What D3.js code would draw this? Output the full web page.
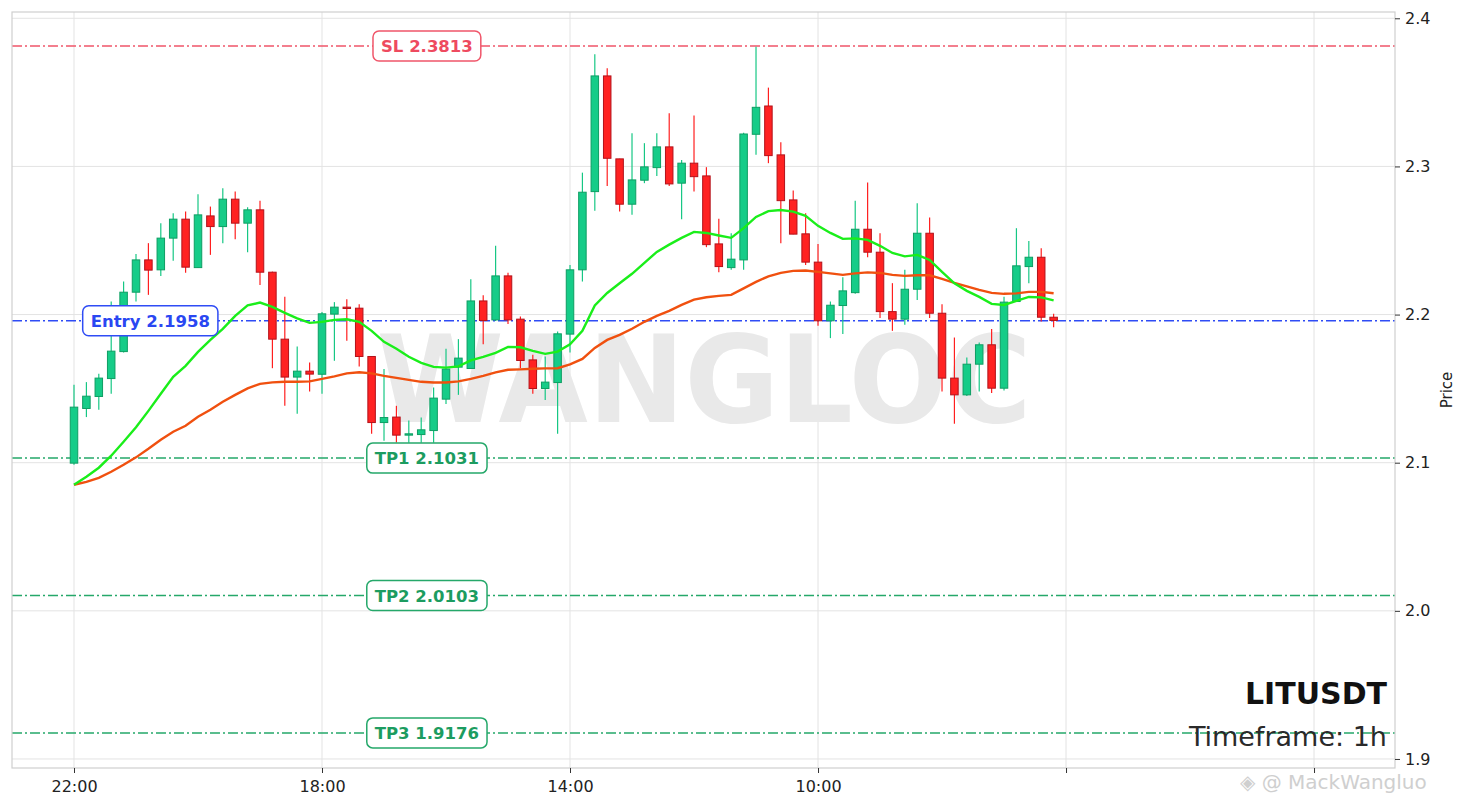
<!DOCTYPE html>
<html><head><meta charset="utf-8">
<script src="https://cdn.jsdelivr.net/npm/d3@7"></script>
<style>
html,body{margin:0;padding:0;background:#fff;}
svg{display:block;font-family:"DejaVu Sans",sans-serif;}
</style></head>
<body>
<svg id="chart" width="1468" height="808"></svg>
<script>
// ---------- DATA ----------
const symbol = "LITUSDT";
const timeframe = "Timeframe: 1h";
const watermark = "WANGLOC";
const xTickIdx = [0, 20, 40, 60, 80, 100];
const xTickLabels = ["22:00", "18:00", "14:00", "10:00", "", ""];
const yTicks = [1.9, 2.0, 2.1, 2.2, 2.3, 2.4];

const opens = [2.0997,2.1366,2.1447,2.1568,2.1750,2.2151,2.2369,2.2302,2.2516,2.2644,
  2.2317,2.2666,2.2594,2.2779,2.2617,2.2707,2.2286,2.1834,2.1578,2.1618,
  2.1597,2.2003,2.2050,2.2043,2.1717,2.1271,2.1308,2.1186,2.1190,2.1217,
  2.1429,2.1645,2.1636,2.2092,2.1964,2.2261,2.1969,2.1694,2.1501,2.1541,
  2.1868,2.2302,2.2830,2.3611,2.3051,2.2745,2.2907,2.2992,2.3132,2.2887,
  2.3022,2.2936,2.2477,2.2317,2.2369,2.3217,2.3408,2.3078,2.2774,2.2545,
  2.2354,2.1958,2.2061,2.2148,2.2576,2.2421,2.2020,2.1969,2.2171,2.2549,
  2.2009,2.1571,2.1458,2.1665,2.1796,2.1503,2.2088,2.2324,2.2387,2.1982];
const highs = [2.1526,2.1544,2.1600,2.2088,2.2223,2.2408,2.2482,2.2617,2.2684,2.2695,
  2.2812,2.2729,2.2853,2.2830,2.2725,2.2769,2.2290,2.2121,2.1784,2.1676,
  2.2018,2.2084,2.2104,2.2070,2.1717,2.1632,2.1384,2.1285,2.1305,2.1507,
  2.1769,2.1834,2.2239,2.2131,2.2464,2.2283,2.1987,2.1728,2.1717,2.1885,
  2.2335,2.2958,2.3757,2.3663,2.3051,2.3224,2.3157,2.3224,2.3359,2.3044,
  2.3343,2.2995,2.2646,2.2549,2.3228,2.3808,2.3532,2.3163,2.2837,2.2684,
  2.2477,2.2088,2.2252,2.2769,2.2891,2.2549,2.2212,2.2302,2.2752,2.2655,
  2.2070,2.1845,2.1710,2.1811,2.1902,2.2121,2.2583,2.2497,2.2448,2.2005];
const lows = [2.0986,2.1308,2.1357,2.1465,2.1744,2.2088,2.2133,2.2261,2.2364,2.2283,
  2.2315,2.2403,2.2482,2.2509,2.2421,2.2200,2.1638,2.1384,2.1330,2.1480,
  2.1465,2.1688,2.1823,2.1649,2.1195,2.1148,2.1136,2.1134,2.1134,2.1134,
  2.1397,2.1458,2.1634,2.1800,2.1957,2.1937,2.1638,2.1465,2.1424,2.1195,
  2.1744,2.2223,2.2700,2.2868,2.2695,2.2673,2.2887,2.2936,2.2868,2.2644,
  2.2830,2.2455,2.2286,2.2302,2.2302,2.3078,2.3022,2.2482,2.2543,2.2335,
  2.1924,2.1841,2.1868,2.2140,2.2387,2.1976,2.1890,2.1931,2.2099,2.1976,
  2.1480,2.1263,2.1451,2.1480,2.1470,2.1487,2.2088,2.2212,2.1953,2.1915];
const closes = [2.1375,2.1449,2.1571,2.1753,2.2151,2.2369,2.2300,2.2516,2.2644,2.2320,
  2.2673,2.2594,2.2779,2.2617,2.2707,2.2286,2.1834,2.1578,2.1618,2.1598,
  2.2005,2.2050,2.2041,2.1717,2.1271,2.1305,2.1186,2.1195,2.1222,2.1436,
  2.1632,2.1706,2.2092,2.1960,2.2261,2.1964,2.1690,2.1501,2.1544,2.1870,
  2.2302,2.2826,2.3611,2.3055,2.2745,2.2909,2.2997,2.3132,2.2882,2.3022,
  2.2931,2.2472,2.2324,2.2374,2.3219,2.3399,2.3073,2.2769,2.2543,2.2354,
  2.1958,2.2063,2.2160,2.2576,2.2421,2.2020,2.1969,2.2171,2.2549,2.2009,
  2.1571,2.1458,2.1665,2.1796,2.1503,2.2084,2.2329,2.2387,2.1982,2.1960];
const maFast = [2.0851,2.0905,2.0966,2.1047,2.1141,2.1239,2.1350,2.1465,2.1580,2.1654,
  2.1748,2.1829,2.1904,2.1991,2.2062,2.2081,2.2052,2.2011,2.1974,2.1944,
  2.1951,2.1964,2.1968,2.1951,2.1890,2.1816,2.1769,2.1715,2.1674,2.1647,
  2.1642,2.1650,2.1691,2.1715,2.1742,2.1782,2.1779,2.1755,2.1735,2.1750,
  2.1799,2.1890,2.2062,2.2146,2.2211,2.2275,2.2349,2.2423,2.2472,2.2518,
  2.2558,2.2551,2.2534,2.2518,2.2583,2.2659,2.2698,2.2706,2.2695,2.2666,
  2.2599,2.2551,2.2511,2.2514,2.2504,2.2464,2.2416,2.2393,2.2403,2.2369,
  2.2288,2.2211,2.2160,2.2119,2.2072,2.2065,2.2092,2.2119,2.2116,2.2096];
const maSlow = [2.0851,2.0871,2.0898,2.0939,2.0986,2.1036,2.1094,2.1155,2.1209,2.1249,
  2.1310,2.1357,2.1411,2.1458,2.1502,2.1532,2.1542,2.1546,2.1546,2.1549,
  2.1566,2.1583,2.1603,2.1611,2.1603,2.1586,2.1573,2.1559,2.1546,2.1541,
  2.1541,2.1549,2.1566,2.1586,2.1610,2.1627,2.1630,2.1634,2.1637,2.1638,
  2.1664,2.1701,2.1775,2.1829,2.1863,2.1904,2.1951,2.1991,2.2025,2.2065,
  2.2101,2.2117,2.2126,2.2133,2.2177,2.2221,2.2258,2.2281,2.2295,2.2297,
  2.2288,2.2278,2.2268,2.2278,2.2285,2.2281,2.2268,2.2261,2.2265,2.2265,
  2.2241,2.2214,2.2190,2.2167,2.2146,2.2140,2.2143,2.2153,2.2153,2.2144];

const levelNames = ["SL", "Entry", "TP1", "TP2", "TP3"];
const levelValues = [2.3813, 2.1958, 2.1031, 2.0103, 1.9176];
const levelLabelPos = [0.3, 0.1, 0.3, 0.3, 0.3]; // axes fraction
const levelColors = ["#f0566a", "#2f4cf5", "#25a86a", "#25a86a", "#25a86a"];
const levelTextColors = ["#ee4a5f", "#2a47f2", "#1c9c60", "#1c9c60", "#1c9c60"];

// ---------- LAYOUT ----------
const L = 12, R = 1395, T = 12, B = 768;
const svg = d3.select("#chart");
const x = d3.scaleLinear().domain([-5, 106.53]).range([L, R]);
const y = d3.scaleLinear().domain([1.8939, 2.40425]).range([B, T]);

// grid
const grid = svg.append("g");
grid.selectAll("line.h").data(yTicks).join("line")
  .attr("x1", L).attr("x2", R).attr("y1", d => y(d)).attr("y2", d => y(d))
  .attr("stroke", "#e3e3e3").attr("stroke-width", 1);
grid.selectAll("line.v").data(xTickIdx).join("line")
  .attr("x1", d => x(d)).attr("x2", d => x(d)).attr("y1", T).attr("y2", B)
  .attr("stroke", "#e3e3e3").attr("stroke-width", 1);

// watermark
svg.append("text").attr("x", 704).attr("y", 422).attr("text-anchor", "middle")
  .attr("font-size", 122).attr("font-weight", "bold")
  .attr("textLength", 655).attr("lengthAdjust", "spacingAndGlyphs")
  .attr("fill", "#e9e9e9").text(watermark);

// level lines
const lv = svg.append("g");
levelValues.forEach((v, i) => {
  lv.append("line").attr("x1", L).attr("x2", R).attr("y1", y(v)).attr("y2", y(v))
    .attr("stroke", levelColors[i]).attr("stroke-width", 1.5)
    .attr("stroke-dasharray", "10,3,2,3");
});

// candles
const idx = d3.range(opens.length);
const up = i => closes[i] >= opens[i];
const cg = svg.append("g");
const bw = 7.5;
cg.selectAll("line.wick").data(idx).join("line")
  .attr("x1", i => x(i)).attr("x2", i => x(i))
  .attr("y1", i => y(highs[i])).attr("y2", i => y(lows[i]))
  .attr("stroke", i => up(i) ? "#16c784" : "#ff1f1f").attr("stroke-width", 1.2);
cg.selectAll("rect.body").data(idx).join("rect")
  .attr("x", i => x(i) - bw / 2).attr("width", bw)
  .attr("y", i => y(Math.max(opens[i], closes[i])))
  .attr("height", i => Math.max(1.2, Math.abs(y(opens[i]) - y(closes[i]))))
  .attr("fill", i => up(i) ? "#16cc88" : "#ff2222")
  .attr("stroke", i => up(i) ? "#0e9e63" : "#b3121a").attr("stroke-width", 1);

// moving averages
const line = arr => d3.line().x((d, i) => x(i)).y(d => y(d))(arr);
svg.append("path").attr("d", line(maSlow)).attr("fill", "none")
  .attr("stroke", "#f0500f").attr("stroke-width", 2.4);
svg.append("path").attr("d", line(maFast)).attr("fill", "none")
  .attr("stroke", "#1aee1a").attr("stroke-width", 2.4);

// level labels
levelValues.forEach((v, i) => {
  const cx = L + levelLabelPos[i] * (R - L);
  const g = svg.append("g");
  const t = g.append("text").attr("x", cx).attr("y", y(v)).attr("dy", "0.36em")
    .attr("text-anchor", "middle").attr("font-size", 16.5).attr("font-weight", "bold")
    .attr("fill", levelTextColors[i]).text(levelNames[i] + " " + v.toFixed(4));
  const bb = t.node().getBBox();
  g.insert("rect", "text").attr("x", bb.x - 8).attr("y", y(v) - 15)
    .attr("width", bb.width + 16).attr("height", 30).attr("rx", 6)
    .attr("fill", "#fff").attr("stroke", levelColors[i]).attr("stroke-width", 1.5);
});

// frame
svg.append("rect").attr("x", L).attr("y", T).attr("width", R - L).attr("height", B - T)
  .attr("fill", "none").attr("stroke", "#cfcfcf").attr("stroke-width", 1.2);

// axes
const yAxis = svg.append("g").attr("transform", `translate(${R},0)`)
  .call(d3.axisRight(y).tickValues(yTicks).tickFormat(d3.format(".1f")).tickSize(5).tickPadding(5));
yAxis.select(".domain").remove();
yAxis.selectAll("text").attr("font-size", 16).attr("fill", "#222").attr("font-family", "DejaVu Sans");
yAxis.selectAll("line").attr("stroke", "#333");

const xAxis = svg.append("g").attr("transform", `translate(0,${B})`)
  .call(d3.axisBottom(x).tickValues(xTickIdx).tickFormat((d, i) => xTickLabels[i]).tickSize(5).tickPadding(8));
xAxis.select(".domain").remove();
xAxis.selectAll("text").attr("font-size", 16).attr("fill", "#222").attr("font-family", "DejaVu Sans");
xAxis.selectAll("line").attr("stroke", "#333");

svg.append("text").attr("transform", "translate(1452,390) rotate(-90)")
  .attr("text-anchor", "middle").attr("font-size", 15).attr("fill", "#222").text("Price");

// titles
svg.append("text").attr("x", 1387).attr("y", 704).attr("text-anchor", "end")
  .attr("font-size", 30).attr("font-weight", "bold").attr("fill", "#111").text(symbol);
svg.append("text").attr("x", 1387).attr("y", 746).attr("text-anchor", "end")
  .attr("font-size", 27).attr("fill", "#2a2a2a").text(timeframe);

// corner watermark
svg.append("text").attr("x", 1240).attr("y", 789)
  .attr("font-size", 20).attr("fill", "#c4c4c4").attr("opacity", 0.8)
  .attr("font-family", "DejaVu Sans").text("◈ @ MackWangluo");
</script>
</body></html>
